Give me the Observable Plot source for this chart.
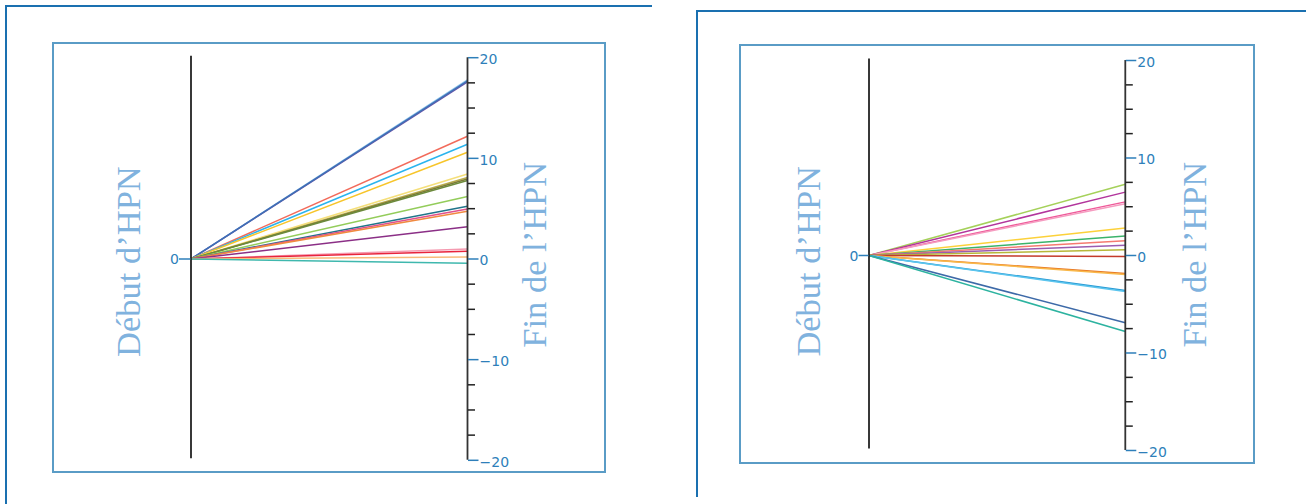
<!DOCTYPE html>
<html><head><meta charset="utf-8">
<script src="https://cdn.jsdelivr.net/npm/d3@7"></script>
<script src="https://cdn.jsdelivr.net/npm/@observablehq/plot@0.6"></script>
<style>
html,body{margin:0;padding:0;background:#fff;}
#page{position:relative;width:1306px;height:504px;overflow:hidden;background:#fff;}
.line{position:absolute;}
.box{position:absolute;box-sizing:border-box;border:2px solid #5a9cc6;}
.chart{position:absolute;}
.chart svg{overflow:visible;}
</style></head><body><div id="page"></div>
<script>
// ---- data ----
const startLabel = "Début d’HPN";
const endLabel = "Fin de l’HPN";
const majorTicks = [-20, -10, 0, 10, 20];
const minorTicks = [-17.5, -15, -12.5, -7.5, -5, -2.5, 2.5, 5, 7.5, 12.5, 15, 17.5];
const startTicks = [0];

// left panel: value at the end of HPN (all start at 0)
const leftEnd = [17.8, 17.6, 17.7, 12.2, 11.4, 10.6, 8.45, 8.1, 7.95, 7.8, 6.2, 5.24, 4.97, 4.74, 3.2, 1.0, 0.77, 0.2, -0.43];
const leftColors = ["#8cc4ec", "#6a55a8", "#3f6fb5", "#f26b5b", "#2ab4ee", "#f7c52a", "#f5df7a", "#b8ab4a", "#7d7a35", "#6c8a3c", "#93cc5a", "#20748a", "#e0508c", "#f08a40", "#8b2f86", "#f59ab0", "#e8243c", "#f9bb7a", "#3fb8ae"];

// right panel
const rightEnd = [7.3, 6.5, 5.5, 5.3, 2.83, 2.0, 1.5, 1.06, 0.58, -0.1, -1.85, -1.95, -3.6, -3.7, -6.9, -7.8];
const rightColors = ["#a5d15a", "#b2359c", "#ef5a9a", "#f59cc0", "#fcd13a", "#3bb36a", "#f57a70", "#9a5cb0", "#b7b83a", "#c43a2a", "#e87a25", "#f9b84a", "#2a9bd5", "#5cc5ee", "#3d6aa8", "#2db3a0"];

const blue = "#2e7fba";
const titleBlue = "#80b2de";
const page = document.getElementById("page");

function addDiv(cls, style) {
  const d = document.createElement("div");
  d.className = cls;
  Object.assign(d.style, style);
  page.appendChild(d);
  return d;
}

// outer frames
addDiv("line", {left: "5px", top: "5px", width: "647px", height: "2px", background: "#1a70b0"});
addDiv("line", {left: "5px", top: "5px", width: "2px", height: "500px", background: "#1a70b0"});
addDiv("line", {left: "696px", top: "10px", width: "610px", height: "2px", background: "#1a70b0"});
addDiv("line", {left: "696px", top: "10px", width: "2px", height: "487px", background: "#1a70b0"});

function panel(o) {
  const data = o.ends.map((v, i) => ({v, c: o.colors[i]}));
  const fmt = d => d < 0 ? "\u2212" + Math.abs(d) : String(d);
  const chart = Plot.plot({
    width: o.width, height: o.height,
    marginLeft: o.mL, marginRight: o.mR, marginTop: o.mT, marginBottom: o.mB,
    x: {domain: [0, 1], axis: null},
    y: {domain: [-20, 20], axis: null, label: null},
    style: {background: "transparent", overflow: "visible"},
    marks: [
      Plot.link(data, {x1: 0, y1: 0, x2: 1, y2: "v", stroke: "c", strokeWidth: 1.5}),
      Plot.ruleX([0], {y1: -20, y2: 20, stroke: "#222", strokeWidth: 1.8, dy: -1.5}),
      Plot.ruleX([1], {y1: -20, y2: 20, stroke: "#333", strokeWidth: 1.8}),
      Plot.axisY(minorTicks, {anchor: "right", label: null, tickSize: 7, stroke: "#222", strokeWidth: 1.5, tickFormat: () => ""}),
      Plot.axisY(majorTicks, {anchor: "right", label: null, tickSize: 10.5, stroke: blue, strokeWidth: 1.5, tickFormat: () => ""}),
      Plot.axisY(majorTicks, {anchor: "right", label: null, tickSize: 0, tickPadding: 12, fill: blue, stroke: "none", fontSize: 14, fontFamily: "DejaVu Sans", dy: 2, tickFormat: fmt}),
      Plot.axisY(startTicks, {anchor: "left", label: null, tickSize: o.zeroTick, stroke: blue, strokeWidth: 1.5, tickFormat: () => ""}),
      Plot.axisY(startTicks, {anchor: "left", label: null, tickSize: 0, tickPadding: o.zeroTick + 0.5, fill: blue, stroke: "none", fontSize: 14, fontFamily: "DejaVu Sans", dy: 1, tickFormat: fmt}),
      Plot.text([startLabel], {frameAnchor: "left", text: d => d, rotate: -90, dx: o.startDx, dy: o.startDy, textAnchor: "middle", lineAnchor: "bottom", fontSize: 34.5, fontFamily: "Liberation Serif", fill: titleBlue}),
      Plot.text([endLabel], {frameAnchor: "right", text: d => d, rotate: -90, dx: o.endDx, dy: o.endDy, textAnchor: "middle", lineAnchor: "bottom", fontSize: 34.5, fontFamily: "Liberation Serif", fill: titleBlue})
    ]
  });
  const wrap = addDiv("chart", {left: o.left + "px", top: o.top + "px", width: o.width + "px", height: o.height + "px"});
  wrap.appendChild(chart);
  addDiv("box", {left: o.left + "px", top: o.top + "px", width: o.width + "px", height: o.height + "px"});
}

panel({ends: leftEnd, colors: leftColors, left: 51.5, top: 41.5, width: 554.5, height: 431.5,
  mL: 138.5, mR: 139.5, mT: 15.2, mB: 13.7, zeroTick: 11.5,
  startDx: -51, startDy: 2.6, endDx: 78.5, endDy: -4.2});

panel({ends: rightEnd, colors: rightColors, left: 738.5, top: 43.5, width: 516.8, height: 420,
  mL: 129.5, mR: 131, mT: 16, mB: 14, zeroTick: 10,
  startDx: -49, startDy: 5.8, endDx: 80.5, endDy: -0.8});
</script></body></html>
